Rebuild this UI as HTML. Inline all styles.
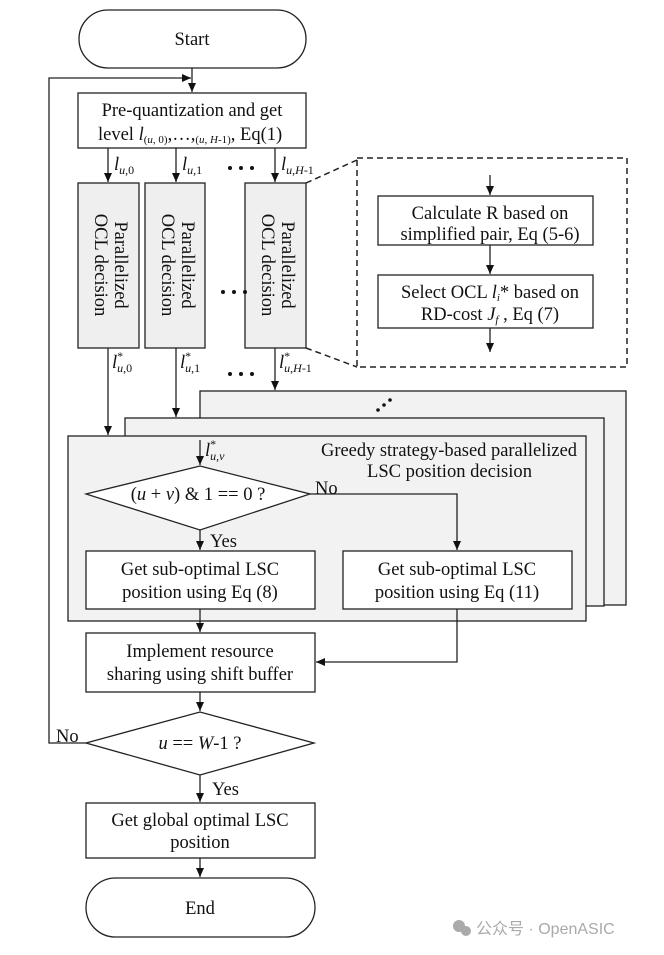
<!DOCTYPE html>
<html><head><meta charset="utf-8"><style>
html,body{margin:0;padding:0;background:#fff;width:664px;height:955px;overflow:hidden}
svg{display:block}
text{font-family:"Liberation Serif",serif;font-size:18.5px;fill:#111}
.i{font-style:italic}
.wm{font-family:"Liberation Sans","Noto Sans CJK SC",sans-serif;font-size:16px;fill:#aaa}
</style></head><body>
<svg width="664" height="955" viewBox="0 0 664 955" xmlns="http://www.w3.org/2000/svg">
<defs><marker id="a" markerWidth="10" markerHeight="10" refX="9" refY="5" orient="auto" markerUnits="userSpaceOnUse"><path d="M0,1 L9,5 L0,9 z" fill="#111"/></marker></defs>
<g stroke="#222" stroke-width="1.3" fill="none">
<rect x="79" y="10" width="227" height="58" rx="29" fill="#fff"/>
<line x1="192" y1="68" x2="192" y2="92" marker-end="url(#a)"/>
<polyline points="86,743 49,743 49,78 191,78" marker-end="url(#a)"/>
<rect x="78" y="93" width="228" height="55" fill="#fff"/>
<line x1="108" y1="148" x2="108" y2="182" marker-end="url(#a)"/>
<line x1="176" y1="148" x2="176" y2="182" marker-end="url(#a)"/>
<line x1="275" y1="148" x2="275" y2="182" marker-end="url(#a)"/>
<rect x="78" y="183" width="61" height="165" fill="#efefef"/>
<rect x="145" y="183" width="60" height="165" fill="#efefef"/>
<rect x="245" y="183" width="61" height="165" fill="#efefef"/>
<g stroke-dasharray="6,4" stroke-width="1.5"><line x1="306" y1="183" x2="357" y2="160"/><line x1="306" y1="348" x2="357" y2="367"/><rect x="357" y="158" width="270" height="209"/></g>
<line x1="490" y1="175" x2="490" y2="195" marker-end="url(#a)"/>
<rect x="378" y="196" width="215" height="49" fill="#fff"/>
<line x1="490" y1="245" x2="490" y2="274" marker-end="url(#a)"/>
<rect x="378" y="275" width="215" height="53" fill="#fff"/>
<line x1="490" y1="328" x2="490" y2="352" marker-end="url(#a)"/>
<line x1="108" y1="348" x2="108" y2="435" marker-end="url(#a)"/>
<line x1="176" y1="348" x2="176" y2="417" marker-end="url(#a)"/>
<line x1="275" y1="348" x2="275" y2="390" marker-end="url(#a)"/>
<rect x="200" y="391" width="426" height="214" fill="#f2f2f2"/>
<rect x="125" y="418" width="479" height="188" fill="#f2f2f2"/>
<rect x="68" y="436" width="518" height="185" fill="#f2f2f2"/>
<line x1="200" y1="440" x2="200" y2="465" marker-end="url(#a)"/>
<polygon points="86,494 200,466 310,494 200,530" fill="#fff"/>
<polyline points="310,494 457,494 457,550" marker-end="url(#a)"/>
<line x1="200" y1="530" x2="200" y2="550" marker-end="url(#a)"/>
<rect x="86" y="551" width="229" height="58" fill="#fff"/>
<rect x="343" y="551" width="229" height="58" fill="#fff"/>
<line x1="200" y1="609" x2="200" y2="632" marker-end="url(#a)"/>
<polyline points="457,609 457,662 316,662" marker-end="url(#a)"/>
<rect x="86" y="633" width="229" height="59" fill="#fff"/>
<line x1="200" y1="692" x2="200" y2="711" marker-end="url(#a)"/>
<polygon points="86,743 200,712 314,743 200,775" fill="#fff"/>
<line x1="200" y1="775" x2="200" y2="802" marker-end="url(#a)"/>
<rect x="86" y="803" width="229" height="55" fill="#fff"/>
<line x1="200" y1="858" x2="200" y2="877" marker-end="url(#a)"/>
<rect x="86" y="878" width="229" height="59" rx="29.5" fill="#fff"/>
</g>
<g fill="#111"><circle cx="230" cy="168" r="2"/><circle cx="241" cy="168" r="2"/><circle cx="252" cy="168" r="2"/>
<circle cx="223" cy="292" r="2"/><circle cx="234" cy="292" r="2"/><circle cx="245" cy="292" r="2"/>
<circle cx="230" cy="374" r="2"/><circle cx="241" cy="374" r="2"/><circle cx="252" cy="374" r="2"/>
<circle cx="378" cy="410" r="1.8"/><circle cx="384" cy="405" r="1.8"/><circle cx="390" cy="400" r="1.8"/></g>
<text x="192" y="116" text-anchor="middle">Pre-quantization and get</text>
<text x="192" y="45" text-anchor="middle">Start</text>
<text x="98" y="140">level <tspan class="i">l</tspan><tspan font-size="11" dy="3">(<tspan class="i">u</tspan>, 0)</tspan><tspan dy="-3">,…,</tspan><tspan font-size="11" dy="3">(<tspan class="i">u</tspan>, <tspan class="i">H</tspan>-1)</tspan><tspan dy="-3">, Eq(1)</tspan></text>
<text x="114" y="170"><tspan class="i">l</tspan><tspan font-size="12" dy="4"><tspan class="i">u</tspan>,0</tspan></text>
<text x="182" y="170"><tspan class="i">l</tspan><tspan font-size="12" dy="4"><tspan class="i">u</tspan>,1</tspan></text>
<text x="281" y="170"><tspan class="i">l</tspan><tspan font-size="12" dy="4"><tspan class="i">u</tspan>,<tspan class="i">H</tspan>-1</tspan></text>
<g text-anchor="middle">
<text font-size="19" transform="translate(115,265) rotate(90)">Parallelized</text>
<text font-size="19" transform="translate(95,265) rotate(90)">OCL decision</text>
<text font-size="19" transform="translate(182,265) rotate(90)">Parallelized</text>
<text font-size="19" transform="translate(162,265) rotate(90)">OCL decision</text>
<text font-size="19" transform="translate(282,265) rotate(90)">Parallelized</text>
<text font-size="19" transform="translate(262,265) rotate(90)">OCL decision</text>
<text x="490" y="219">Calculate R based on</text>
<text x="490" y="240">simplified pair, Eq (5-6)</text>
<text x="490" y="298">Select OCL <tspan class="i">l</tspan><tspan font-size="11" dy="3" class="i">i</tspan><tspan dy="-3">* based on</tspan></text>
<text x="490" y="320">RD-cost <tspan class="i">J</tspan><tspan font-size="11" dy="3" class="i">f</tspan><tspan dy="-3"> , Eq (7)</tspan></text>
</g>
<text x="112" y="368"><tspan class="i">l</tspan><tspan font-size="12" dy="-8">*</tspan><tspan font-size="12" dx="-6" dy="12"><tspan class="i">u</tspan>,0</tspan></text>
<text x="180" y="368"><tspan class="i">l</tspan><tspan font-size="12" dy="-8">*</tspan><tspan font-size="12" dx="-6" dy="12"><tspan class="i">u</tspan>,1</tspan></text>
<text x="279" y="368"><tspan class="i">l</tspan><tspan font-size="12" dy="-8">*</tspan><tspan font-size="12" dx="-6" dy="12"><tspan class="i">u</tspan>,<tspan class="i">H</tspan>-1</tspan></text>
<text x="205" y="456"><tspan class="i">l</tspan><tspan font-size="12" dy="-8">*</tspan><tspan font-size="12" dx="-6" dy="12" class="i">u,v</tspan></text>
<text x="321" y="456" font-size="15.5" textLength="256" lengthAdjust="spacingAndGlyphs">Greedy strategy-based parallelized</text>
<text x="367" y="477" font-size="15.5" textLength="165" lengthAdjust="spacingAndGlyphs">LSC position decision</text>
<text x="198" y="500" text-anchor="middle">(<tspan class="i">u</tspan> + <tspan class="i">v</tspan>) &amp; 1 == 0 ?</text>
<text x="315" y="494">No</text>
<text x="210" y="547">Yes</text>
<g text-anchor="middle">
<text x="200" y="575">Get sub-optimal LSC</text>
<text x="200" y="598">position using Eq (8)</text>
<text x="457" y="575">Get sub-optimal LSC</text>
<text x="457" y="598">position using Eq (11)</text>
<text x="200" y="657">Implement resource</text>
<text x="200" y="680">sharing using shift buffer</text>
<text x="200" y="749"><tspan class="i">u</tspan> == <tspan class="i">W</tspan>-1 ?</text>
<text x="200" y="826">Get global optimal LSC</text>
<text x="200" y="848">position</text>
<text x="200" y="914">End</text>
</g>
<text x="56" y="742">No</text>
<text x="212" y="795">Yes</text>
<circle cx="459" cy="926" r="6" fill="#aaa"/><circle cx="466" cy="931" r="5" fill="#aaa"/>
<text x="476" y="934" class="wm">公众号 · OpenASIC</text>
</svg>
</body></html>
